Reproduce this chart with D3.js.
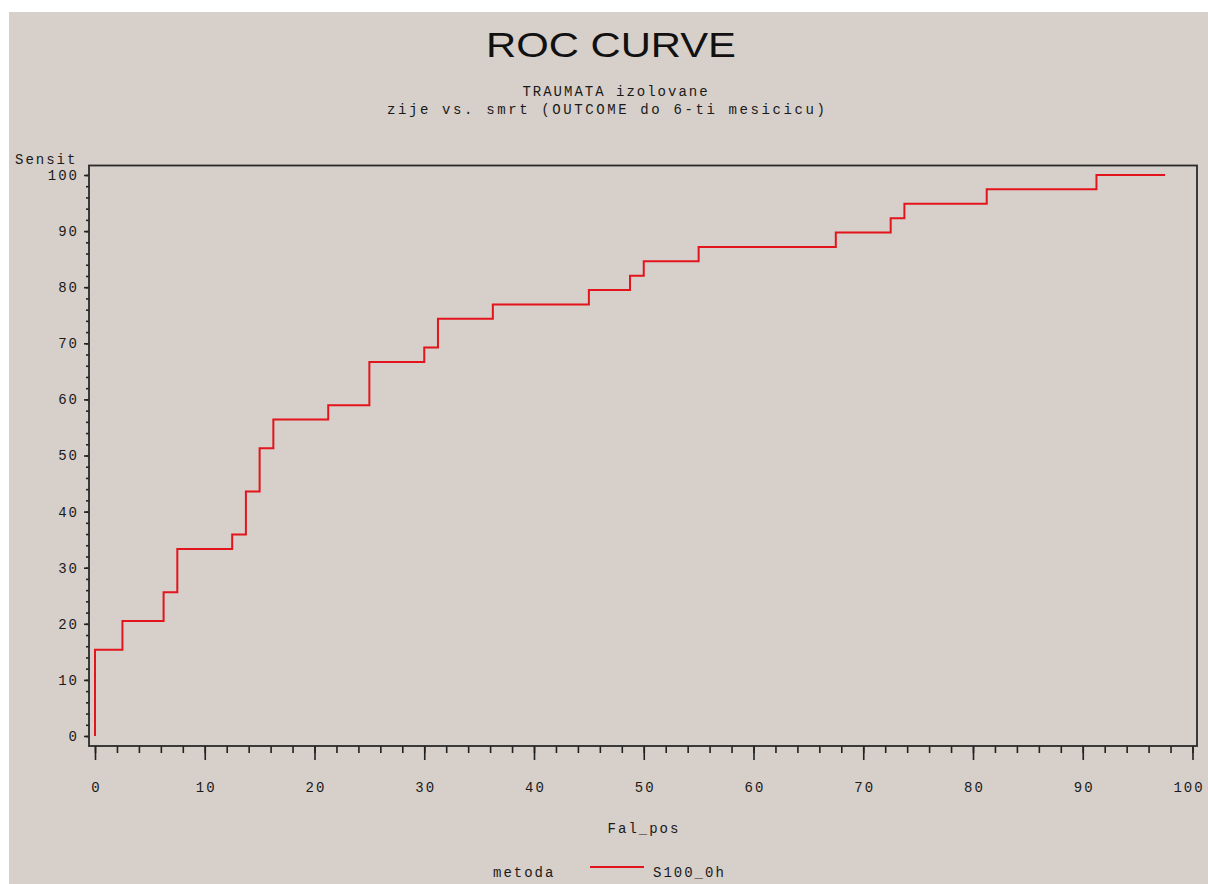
<!DOCTYPE html>
<html>
<head>
<meta charset="utf-8">
<script src="https://cdn.jsdelivr.net/npm/d3@7"></script>
<style>
  body { margin: 0; background: #ffffff; }
  .mono { font-family: "Liberation Mono", "DejaVu Sans Mono", monospace; font-size: 14px; letter-spacing: 2px; fill: #1a1a1a; }
</style>
</head>
<body>
<div id="chart"></div>
<script>
// ROC curve (percent)
var falPos = [0, 0, 2.5, 6.25, 7.5, 12.5, 13.75, 15, 16.25, 21.25, 25, 30, 31.25, 36.25, 45, 48.75, 50, 55, 67.5, 72.5, 73.75, 81.25, 91.25, 97.5]
var sensit = [0, 15.38, 20.51, 25.64, 33.33, 35.9, 43.59, 51.28, 56.41, 58.97, 66.67, 69.23, 74.36, 76.92, 79.49, 82.05, 84.62, 87.18, 89.74, 92.31, 94.87, 97.44, 100, 100]
var xMajor = [0, 10, 20, 30, 40, 50, 60, 70, 80, 90, 100]
var yMajor = [0, 10, 20, 30, 40, 50, 60, 70, 80, 90, 100]
var minorTicks = d3.range(0, 101, 2)
var seriesName = "S100_0h"

var W = 1208, H = 884
var frame = {left: 89, right: 1197, top: 165.5, bottom: 746}
var red = "#e3141c"

var svg = d3.select("#chart").append("svg")
    .attr("width", W)
    .attr("height", H)

svg.append("rect").attr("x", 9).attr("y", 12).attr("width", W - 9).attr("height", H - 12).style("fill", "#d7cfc9")

var x = d3.scaleLinear().domain([0, 100]).range([95, 1192.5])
var y = d3.scaleLinear().domain([0, 100]).range([736, 175])

// titles
svg.append("text").attr("x", 611).attr("y", 57)
    .attr("text-anchor", "middle")
    .attr("textLength", 250).attr("lengthAdjust", "spacingAndGlyphs")
    .style("font-family", "Liberation Sans, Arial, sans-serif").style("font-size", "35px").style("fill", "#111")
    .text("ROC CURVE")
svg.append("text").attr("class", "mono").attr("x", 616).attr("y", 96).attr("text-anchor", "middle").text("TRAUMATA izolovane")
svg.append("text").attr("class", "mono").attr("x", 607).attr("y", 114).attr("text-anchor", "middle")
    .attr("textLength", 440).attr("lengthAdjust", "spacing")
    .text("zije vs. smrt (OUTCOME do 6-ti mesicicu)")

// minor + major ticks, x
svg.append("g")
    .attr("transform", "translate(0," + frame.bottom + ")")
    .call(d3.axisBottom(x).tickValues(minorTicks).tickSize(7).tickFormat(""))
    .call(function(g){ g.select(".domain").remove() })
svg.append("g")
    .attr("transform", "translate(0," + frame.bottom + ")")
    .call(d3.axisBottom(x).tickValues(xMajor).tickSize(14).tickPadding(22))
    .call(function(g){ g.select(".domain").remove() })
    .selectAll("text").attr("class", "mono")
    .attr("dx", function(d){ return d == 100 ? "-4px" : "1px" })

// minor + major ticks, y
svg.append("g")
    .attr("transform", "translate(" + frame.left + ",0)")
    .call(d3.axisLeft(y).tickValues(minorTicks).tickSize(3).tickFormat(""))
    .call(function(g){ g.select(".domain").remove() })
svg.append("g")
    .attr("transform", "translate(" + frame.left + ",0)")
    .call(d3.axisLeft(y).tickValues(yMajor).tickSize(5).tickPadding(5))
    .call(function(g){ g.select(".domain").remove() })
    .selectAll("text").attr("class", "mono")

svg.selectAll(".tick line").style("stroke", "#222").style("stroke-width", 1.6)
svg.selectAll(".tick text").attr("font-size", null).attr("font-family", null)

// frame
svg.append("rect")
    .attr("x", frame.left).attr("y", frame.top)
    .attr("width", frame.right - frame.left).attr("height", frame.bottom - frame.top)
    .style("fill", "none").style("stroke", "#2a2a2a").style("stroke-width", 1.8)

// axis labels
svg.append("text").attr("class", "mono").attr("x", 15).attr("y", 164).text("Sensit")
svg.append("text").attr("class", "mono").attr("x", 644).attr("y", 833).attr("text-anchor", "middle").text("Fal_pos")

// curve
var pts = falPos.map(function(d, i){ return [d, sensit[i]] })
var line = d3.line()
    .x(function(d){ return x(d[0]) })
    .y(function(d){ return y(d[1]) })
    .curve(d3.curveStepAfter)
svg.append("path")
    .datum(pts)
    .attr("d", line)
    .style("fill", "none").style("stroke", red).style("stroke-width", 2)

// legend
svg.append("text").attr("class", "mono").attr("x", 493).attr("y", 877).text("metoda")
svg.append("line").attr("x1", 590).attr("x2", 644).attr("y1", 867).attr("y2", 867).style("stroke", red).style("stroke-width", 2)
svg.append("text").attr("class", "mono").attr("x", 653).attr("y", 877).text(seriesName)
</script>
</body>
</html>
